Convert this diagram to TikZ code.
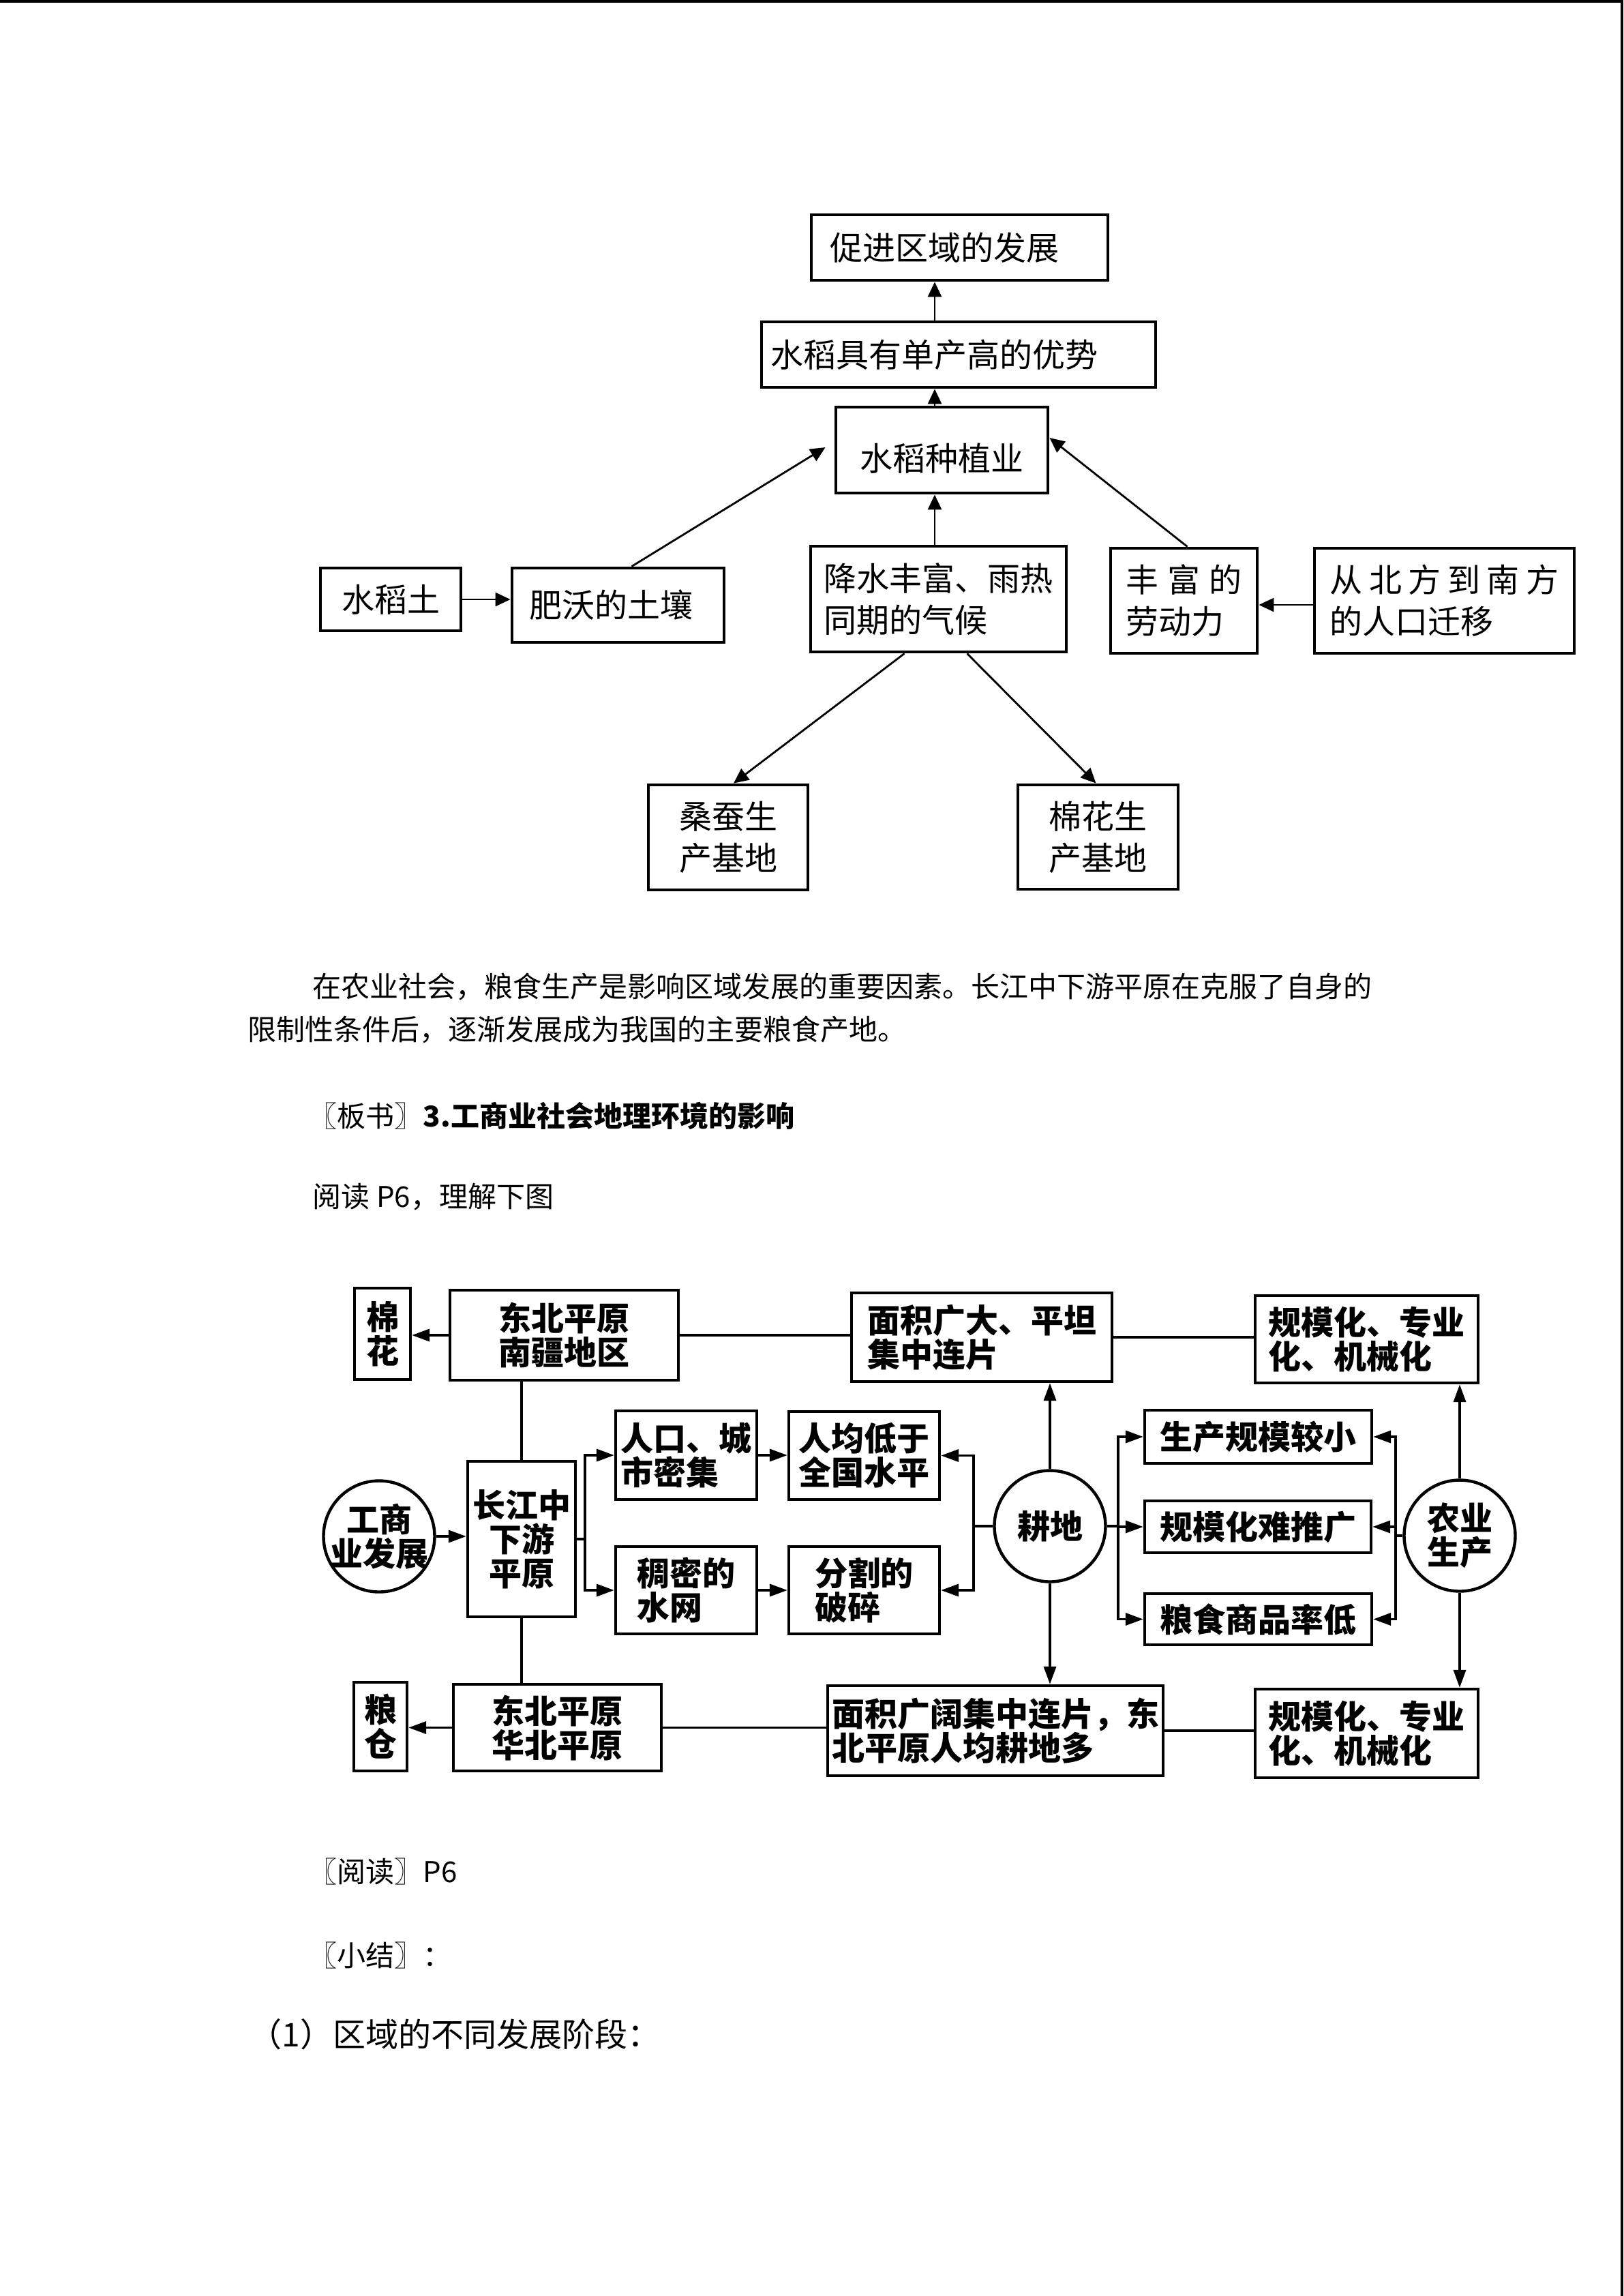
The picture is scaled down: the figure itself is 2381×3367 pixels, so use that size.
\documentclass[tikz,border=0pt]{standalone}
\usepackage{fontspec}
\setmainfont{Noto Sans CJK SC}
\usetikzlibrary{arrows.meta,calc,shapes.geometric}
\begin{document}
\begin{tikzpicture}[x=0.25pt,y=-0.25pt,
  tbox/.style={draw, line width=1.2pt, inner sep=0pt, align=left, font=\fontsize{12pt}{15.25pt}\selectfont},
  tarr/.style={line width=0.7pt, -{Triangle[length=5.5pt,width=5pt]}},
  lbox/.style={draw, line width=1.1pt, inner sep=0pt, font=\fontsize{12pt}{12.5pt}\selectfont\bfseries},
  lcirc/.style={draw, circle, line width=1.1pt, inner sep=-1.5pt, minimum size=40.75pt, align=center, font=\fontsize{12pt}{12.5pt}\selectfont\bfseries},
  lline/.style={line width=0.9pt},
  larr/.style={line width=0.9pt, -{Triangle[length=6.5pt,width=4.5pt]}},
  body/.style={anchor=west, inner sep=0pt, font=\fontsize{10.5pt}{12pt}\selectfont},
]
\useasboundingbox (0,0) rectangle (2381,3367);
\fill[white] (0,0) rectangle (2381,3367);
\fill[black] (0,0) rectangle (2381,4);
\fill[black] (2377,0) rectangle (2381,3367);

% ---------- upper diagram ----------
\node[tbox, minimum width=108.75pt, minimum height=24pt, text width=95.25pt] (p1) at (1407.5,363) {促进区域的发展};
\node[tbox, minimum width=144.5pt, minimum height=24pt, text width=138pt] (p2) at (1406,520) {水稻具有单产高的优势};
\node[tbox, minimum width=77.75pt, minimum height=31.5pt, align=center] (p3) at (1381.5,660) {\raisebox{-3pt}[\height][\depth]{水稻种植业}};
\node[tbox, minimum width=51.5pt, minimum height=23pt, align=center] (p4) at (573,879) {水稻土};
\node[tbox, minimum width=77.75pt, minimum height=27.25pt, text width=65.25pt] (p5) at (906.5,887.5) {肥沃的土壤};
\node[tbox, minimum width=93.75pt, minimum height=38.75pt] (p6) at (1376.5,878.5) {降水丰富、雨热\\同期的气候};
\node[tbox, minimum width=53.75pt, minimum height=38.5pt] (p7) at (1736.5,881) {丰\hspace{3.25pt}富\hspace{3.25pt}的\\劳动力};
\node[tbox, minimum width=95.25pt, minimum height=38.5pt] (p8) at (2118.5,881) {从\hspace{2.4pt}北\hspace{2.4pt}方\hspace{2.4pt}到\hspace{2.4pt}南\hspace{2.4pt}方\\的人口迁移};
\node[tbox, minimum width=58.5pt, minimum height=38.5pt, align=center] (p9) at (1068,1228) {桑蚕生\\产基地};
\node[tbox, minimum width=58.75pt, minimum height=38.25pt, align=center] (p10) at (1610.5,1227.5) {棉花生\\产基地};

\coordinate (ax) at (1371,0);
\draw[tarr] (ax |- p2.north) -- (ax |- p1.south);
\draw[tarr] (ax |- p3.north) -- (ax |- p2.south);
\draw[tarr] (ax |- p6.north) -- (ax |- p3.south);
\draw[tarr] (p4.east) -- (p4.east -| p5.west);
\draw[tarr] ($(p5.north)+(20,0)$) -- ($(p3.west)+(-13,-4)$);
\draw[tarr] ($(p7.north)+(5,0)$) -- ($(p3.east)+(0,-18)$);
\draw[tarr] ($(p8.west)+(0,6)$) -- ($(p7.east)+(0,6)$);
\draw[tarr] ($(p6.south)+(-50,0)$) -- ($(p9.north)+(8,0)$);
\draw[tarr] ($(p6.south)+(42,0)$) -- ($(p10.north)+(-3,0)$);

% ---------- text ----------
\node[body] (t1) at (458,1447) {在农业社会，粮食生产是影响区域发展的重要因素。长江中下游平原在克服了自身的};
\node[body] (t2) at (363,1510) {限制性条件后，逐渐发展成为我国的主要粮食产地。};
\node[body] (t3) at (452,1636) {〖板书〗\textbf{3.工商业社会地理环境的影响}};
\node[body] (t4) at (458,1755) {阅读 P6，理解下图};
\node[body] (t5) at (452,2745) {〖阅读〗P6};
\node[body] (t6) at (452,2867) {〖小结〗：};
\node[body, font=\fontsize{12pt}{14pt}\selectfont] (t7) at (365,2983) {（1）区域的不同发展阶段：};

% ---------- lower diagram ----------
\node[lbox, minimum width=20.5pt, minimum height=33.5pt, align=center] (q1) at (561,1956) {棉\\花};
\node[lbox, minimum width=83.75pt, minimum height=33pt, align=center] (q2) at (827.5,1958) {东北平原\\南疆地区};
\node[lbox, minimum width=95.5pt, minimum height=32.5pt, align=left] (q3) at (1440,1961) {面积广大、平坦\\集中连片};
\node[lbox, minimum width=81.75pt, minimum height=32pt, align=left] (q4) at (2004.5,1964) {规模化、专业\\化、机械化};
\node[lbox, minimum width=51.75pt, minimum height=32.5pt, align=left] (q5) at (1006.5,2134) {人口、城\\市密集};
\node[lbox, minimum width=55.25pt, minimum height=32.25pt, align=center] (q6) at (1267.5,2134.5) {人均低于\\全国水平};
\node[lbox, minimum width=51.75pt, minimum height=32pt, align=left] (q7) at (1006.5,2332) {稠密的\\水网};
\node[lbox, minimum width=55.25pt, minimum height=32pt, align=left] (q8) at (1267.5,2332) {分割的\\破碎};
\node[lbox, minimum width=39.5pt, minimum height=57pt, align=center] (q9) at (765,2257) {长江中\\下游\\平原};
\node[lcirc] (q10) at (556,2253) {工商\\业发展};
\node[lbox, minimum width=19.5pt, minimum height=32.5pt, align=center] (q11) at (558,2532) {粮\\仓};
\node[lbox, minimum width=76.25pt, minimum height=31.75pt, align=center] (q12) at (817.5,2533.5) {东北平原\\华北平原};
\node[lbox, minimum width=123pt, minimum height=33pt, align=left] (q13) at (1460,2538) {面积广阔集中连片，东\\北平原人均耕地多};
\node[lbox, minimum width=81.75pt, minimum height=32.5pt, align=left] (q14) at (2004.5,2542) {规模化、专业\\化、机械化};
\node[lcirc] (q15) at (1540,2238) {耕地};
\node[lbox, minimum width=83.25pt, minimum height=19.5pt] (q16) at (1845.5,2107) {生产规模较小};
\node[lbox, minimum width=83pt, minimum height=19pt] (q17) at (1845,2239) {规模化难推广};
\node[lbox, minimum width=83.25pt, minimum height=18.75pt] (q18) at (1845.5,2374.5) {粮食商品率低};
\node[lcirc] (q19) at (2141,2252) {农业\\生产};

\draw[larr] (q2.west) -- (q2.west -| q1.east);
\draw[lline] (q2.east) -- (q2.east -| q3.west);
\draw[lline] (q3.east) -- (q3.east -| q4.west);
\draw[larr] (q15.north) -- (q15.north |- q3.south);
\draw[larr] (q15.south) -- (q15.south |- q13.north);
\draw[larr] (q19.north) -- (q19.north |- q4.south);
\draw[larr] (q19.south) -- (q19.south |- q14.north);
\draw[lline] (q9.north) -- (q9.north |- q2.south);
\draw[lline] (q9.south) -- (q9.south |- q12.north);
\draw[larr] (q12.west) -- (q12.west -| q11.east);
\draw[lline] (q12.east) -- (q12.east -| q13.west);
\draw[lline] (q13.east) -- (q13.east -| q14.west);
\draw[larr] (q10.east) -- (q10.east -| q9.west);
\coordinate (b1) at (858,2257);
\draw[lline] (q9.east) -- (b1);
\draw[larr] (b1) |- (q5.west);
\draw[larr] (b1) |- (q7.west);
\draw[larr] (q5.east) -- (q5.east -| q6.west);
\draw[larr] (q7.east) -- (q7.east -| q8.west);
\coordinate (b2) at (1428,2238);
\draw[lline] (q15.west) -- (b2);
\draw[larr] (b2) |- (q6.east);
\draw[larr] (b2) |- (q8.east);
\coordinate (b3) at (1640,2238);
\draw[lline] (q15.east) -- (b3);
\draw[larr] (b3) |- (q16.west);
\draw[larr] (b3) |- (q17.west);
\draw[larr] (b3) |- (q18.west);
\coordinate (b4) at (2047,2252);
\draw[lline] (q19.west) -- (b4);
\draw[larr] (b4) |- (q16.east);
\draw[larr] (b4) |- (q17.east);
\draw[larr] (b4) |- (q18.east);
\end{tikzpicture}
\end{document}
